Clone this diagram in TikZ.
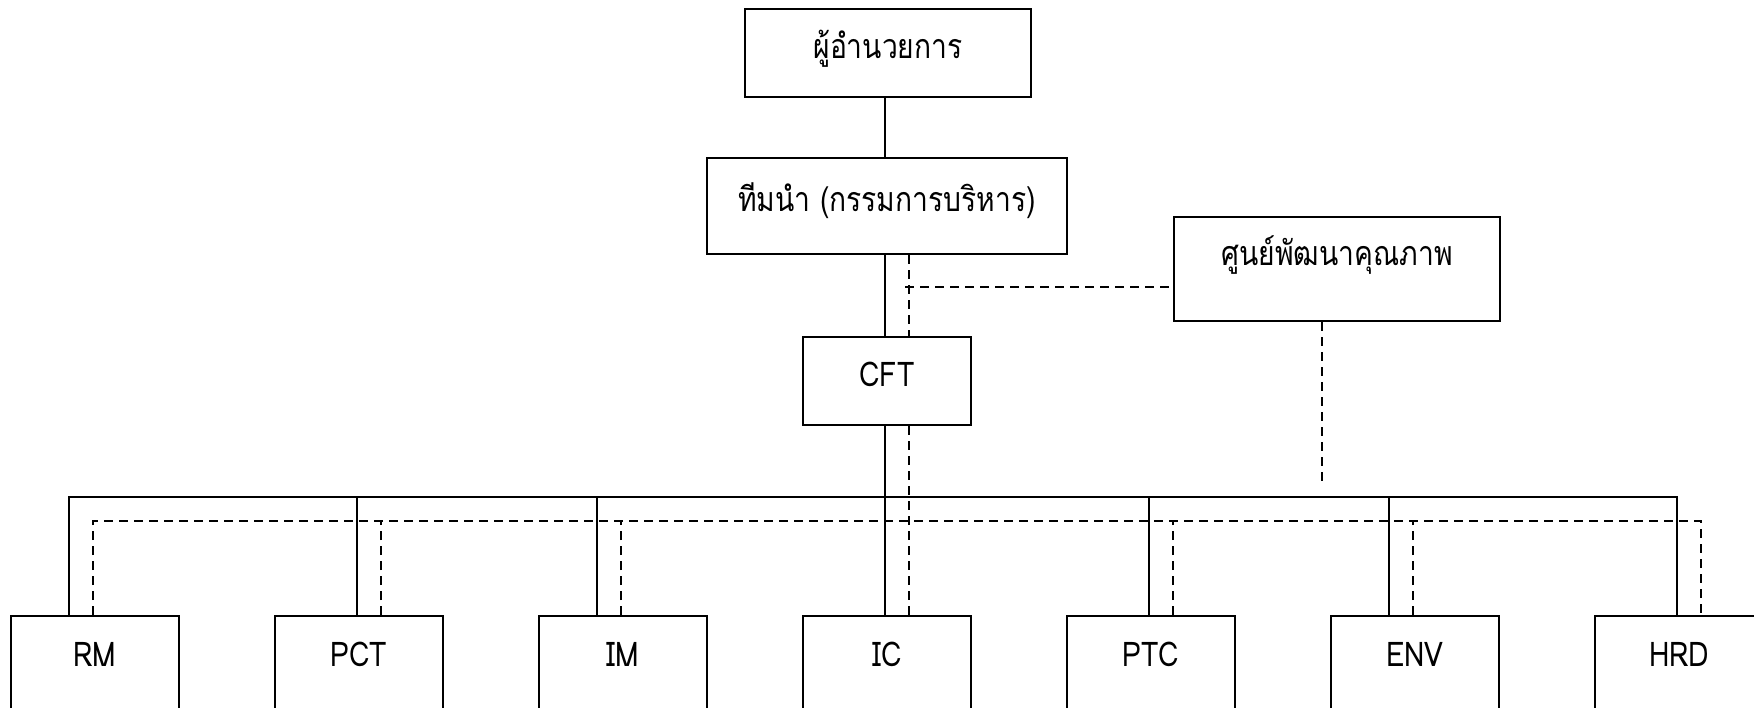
\documentclass[tikz,border=0pt]{standalone}
\usepackage{fontspec}
\newfontfamily\thaifont[Script=Thai,FakeStretch=0.83]{Loma}
\usetikzlibrary{calc}
\begin{document}
\begin{tikzpicture}[x=0.5pt,y=-0.5pt,
  box/.style={draw, line width=1pt, inner sep=0pt},
  lbl/.style={font=\thaifont\fontsize{17pt}{19pt}\selectfont, anchor=base, inner sep=0pt},
  link/.style={line width=1pt},
  dlink/.style={line width=1pt, dash pattern=on 4.5pt off 3pt},
  unit/.style={box, minimum width=84pt, minimum height=72pt}
]
\useasboundingbox (0,0) rectangle (1754,707);
\clip (0,0) rectangle (1754,707);
% boxes
\node[box, minimum width=143pt, minimum height=44pt] (dir) at (888,53) {};
\node[lbl] (dirt) at (888,58) {ผู้อำนวยการ};
\node[box, minimum width=180pt, minimum height=48pt] (team) at (887,206) {};
\node[lbl] (teamt) at (887,211) {ทีมนำ (กรรมการบริหาร)};
\node[box, minimum width=163pt, minimum height=52pt] (qual) at (1337,269) {};
\node[lbl] (qualt) at (1337,265) {ศูนย์พัฒนาคุณภาพ};
\node[box, minimum width=84pt, minimum height=44pt] (cft) at (887,381) {};
\node[lbl] (cftt) at (887,386) {CFT};
\foreach \n/\t/\i in {rm/RM/0, pct/PCT/1, im/IM/2, ic/IC/3, ptc/PTC/4, env/ENV/5, hrd/HRD/6} {
  \node[unit] (\n) at ({95+264*\i},688) {};
  \node[lbl] (\n-t) at ({95+264*\i},666) {\t};
}
\foreach \n/\s/\d in {rm/-26/-2, pct/-2/22, im/-26/-2, ic/-2/22, ptc/-2/22, env/-26/-2, hrd/-2/22} {
  \coordinate (\n-s) at ($(\n.north)+(\s,0)$);
  \coordinate (\n-d) at ($(\n.north)+(\d,0)$);
}
\coordinate (busY) at (0,497);
\coordinate (dbusY) at (0,521);
% main column
\draw[link] (dir.south -| ic-s) -- (team.north -| ic-s);
\draw[link] (team.south -| ic-s) -- (cft.north -| ic-s);
\draw[dlink] (team.south -| ic-d) -- (cft.north -| ic-d);
\coordinate (qj) at (905,287);
\draw[dlink] (qj) -- (qual.west |- qj);
\coordinate (qend) at (1322,484);
\draw[dlink] (qual.south -| qend) -- (qend);
\draw[link] (cft.south -| ic-s) -- (ic-s);
\draw[dlink] (cft.south -| ic-d) -- (ic-d);
% buses
\draw[link] (rm-s) -- (rm-s |- busY) -- (hrd-s |- busY) -- (hrd-s);
\foreach \n in {pct,im,ptc,env} \draw[link] (\n-s) -- (\n-s |- busY);
\draw[dlink] (rm-d) -- (rm-d |- dbusY) -- (hrd-d |- dbusY) -- (hrd-d);
\foreach \n in {pct,im,ptc,env} \draw[dlink] (\n-d) -- (\n-d |- dbusY);
\end{tikzpicture}
\end{document}
